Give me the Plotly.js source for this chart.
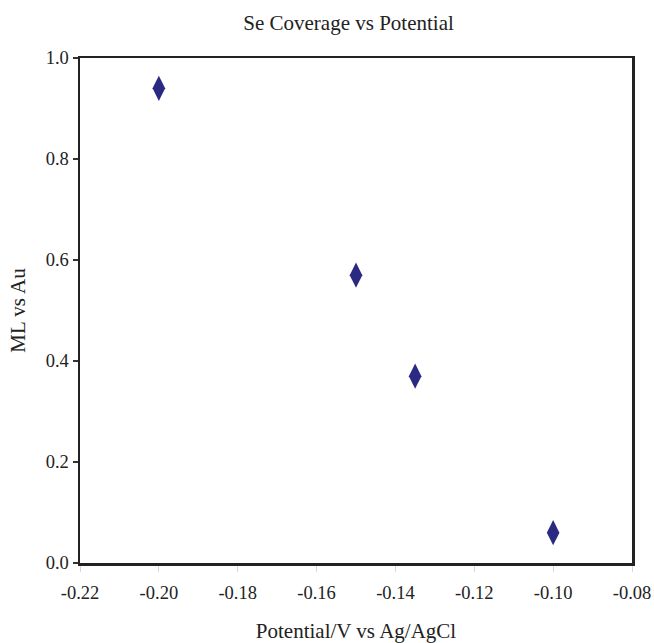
<!DOCTYPE html>
<html>
<head>
<meta charset="utf-8">
<script src="https://cdn.plot.ly/plotly-3.0.1.min.js"></script>
<style>
  html, body { margin: 0; padding: 0; background: #fff; }
  #chart { width: 654px; height: 643px; }
</style>
</head>
<body>
<div id="chart"></div>
<script>
// Se coverage (monolayers vs Au) at each deposition potential
const potentials = [-0.20, -0.15, -0.135, -0.10];
const coverage = [0.94, 0.57, 0.37, 0.06];

const xTickVals = [-0.22, -0.20, -0.18, -0.16, -0.14, -0.12, -0.10, -0.08];
const xTickText = ['-0.22', '-0.20', '-0.18', '-0.16', '-0.14', '-0.12', '-0.10', '-0.08'];
const yTickVals = [0.0, 0.2, 0.4, 0.6, 0.8, 1.0];
const yTickText = ['0.0', '0.2', '0.4', '0.6', '0.8', '1.0'];

const serif = 'Liberation Serif';

const trace = {
  x: potentials,
  y: coverage,
  type: 'scatter',
  mode: 'markers',
  marker: { symbol: 'diamond-tall', size: 18, color: '#2b2a82', line: { width: 0 } },
  hoverinfo: 'x+y'
};

const layout = {
  width: 654,
  height: 643,
  margin: { l: 80, r: 22, t: 58, b: 80 },
  paper_bgcolor: '#ffffff',
  plot_bgcolor: '#ffffff',
  showlegend: false,
  font: { family: serif, color: '#222', size: 18.5 },
  title: {
    text: 'Se Coverage vs Potential',
    font: { family: serif, size: 21, color: '#222' },
    x: 0.533, xanchor: 'center',
    y: 1 - 23 / 643, yanchor: 'middle'
  },
  xaxis: {
    range: [-0.22, -0.08],
    tickvals: xTickVals,
    ticktext: xTickText,
    ticks: 'outside',
    ticklen: 6,
    tickwidth: 1,
    tickcolor: '#d8d8d8',
    ticklabelstandoff: 5,
    showgrid: false,
    zeroline: false,
    showline: true,
    linewidth: 2.5,
    linecolor: '#222',
    mirror: true,
    tickfont: { family: serif, size: 18.5, color: '#222' },
    title: {
      text: 'Potential/V vs Ag/AgCl',
      font: { family: serif, size: 21, color: '#222' },
      standoff: 23
    }
  },
  yaxis: {
    range: [0, 1.0],
    tickvals: yTickVals,
    ticktext: yTickText,
    ticks: 'outside',
    ticklen: 5,
    tickwidth: 1.5,
    tickcolor: '#333',
    showgrid: false,
    zeroline: false,
    showline: true,
    linewidth: 2.5,
    linecolor: '#222',
    mirror: true,
    tickfont: { family: serif, size: 18.5, color: '#222' },
    title: {
      text: 'ML vs Au',
      font: { family: serif, size: 21, color: '#222' },
      standoff: 15
    }
  }
};

Plotly.newPlot('chart', [trace], layout, { displayModeBar: false, staticPlot: true });
</script>
</body>
</html>
